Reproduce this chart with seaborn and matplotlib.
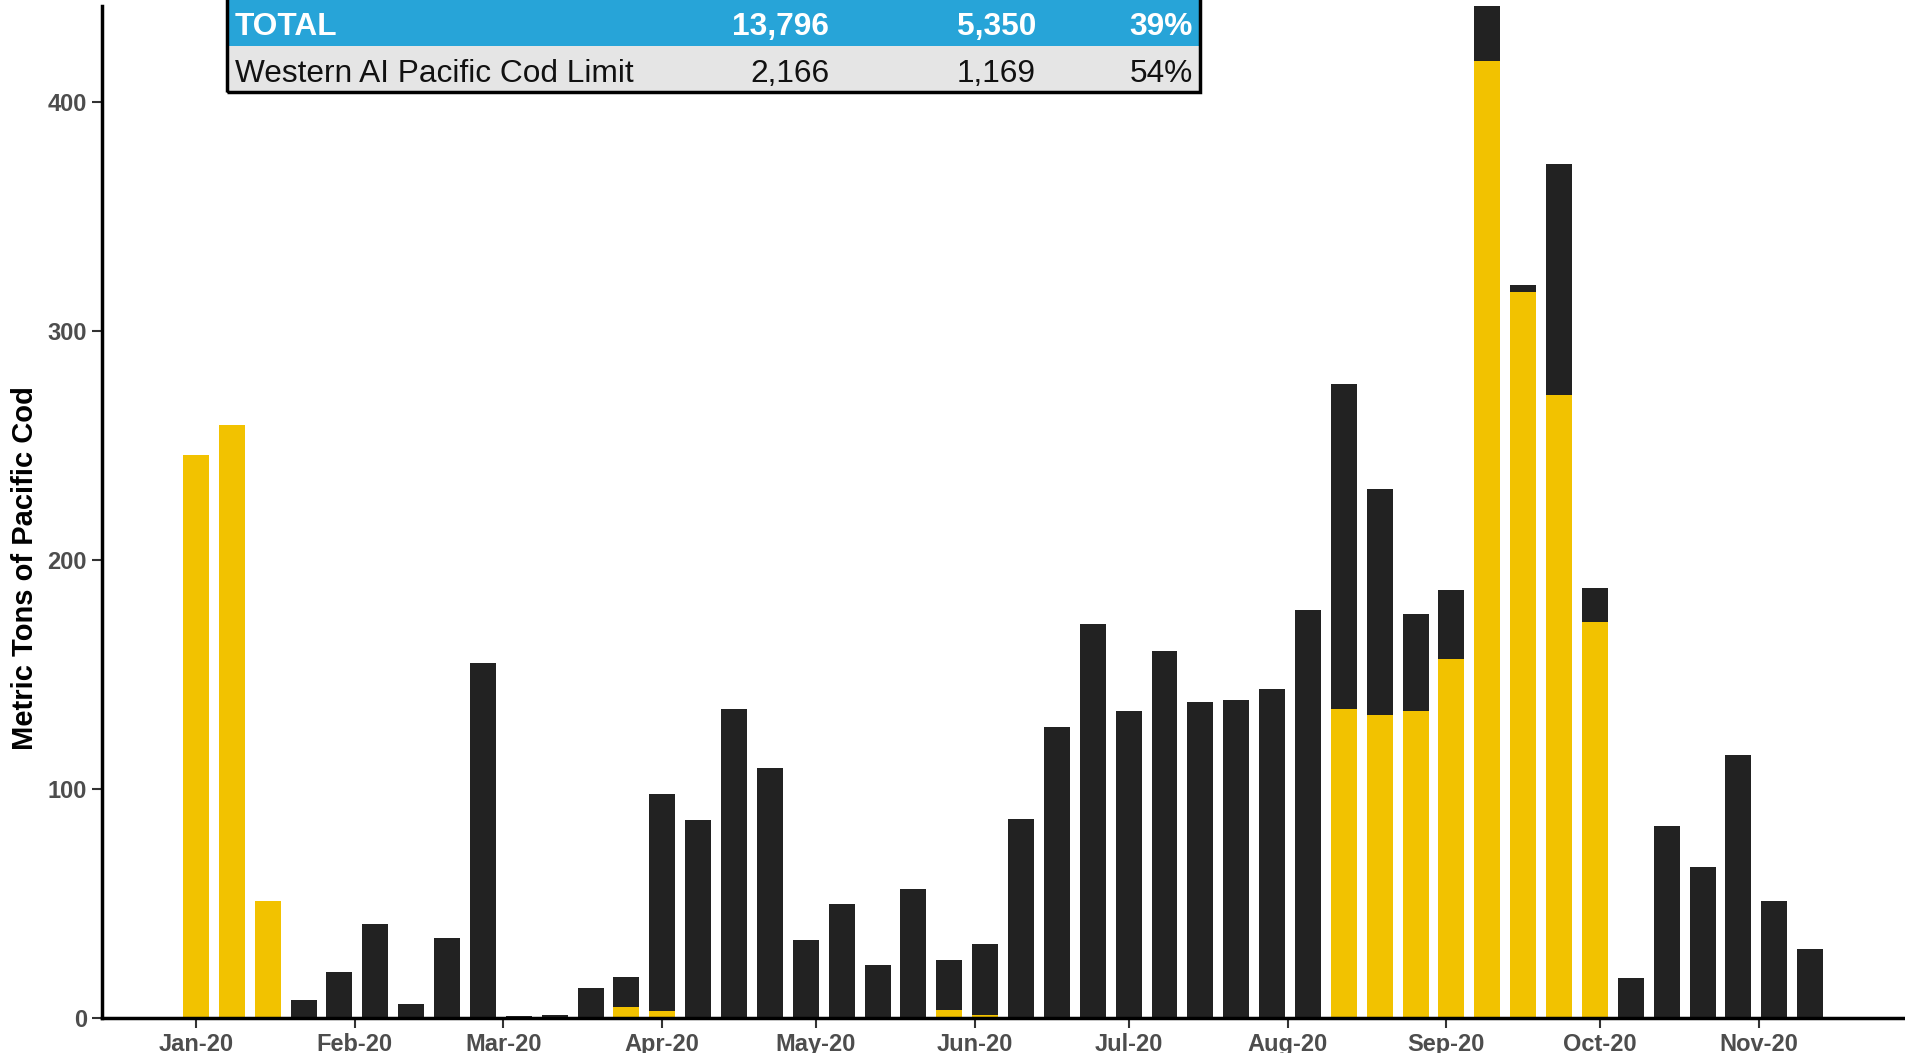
import pandas as pd
import seaborn as sns
import matplotlib.pyplot as plt
import matplotlib.dates as mdates
from matplotlib.patches import Rectangle

sns.set_style('ticks')
plt.rcParams['font.family'] = ['Liberation Sans', 'DejaVu Sans']
plt.rcParams['font.weight'] = 'bold'

# weekly catch (metric tons), weeks starting 2020-01-01
week_start = '2020-01-01'
n_weeks = 46
total_catch = [246, 259, 51, 8, 20, 41, 6, 35, 155, 1, 1.5, 13,
               18, 98, 86.5, 135, 109, 34, 50, 23, 56.5, 25.5, 32.3, 87,
               127, 172, 134, 160.5, 138, 139, 143.5, 178, 277, 231, 176.5, 187,
               453, 320, 373, 188, 17.5, 84, 66, 115, 51, 30]
yellow_catch = [246, 259, 51, 0, 0, 0, 0, 0, 0, 0, 0, 0,
                4.8, 3.1, 0, 0, 0, 0, 0, 0, 0, 3.5, 1.3, 0,
                0, 0, 0, 0, 0, 0, 0, 0, 135, 132.5, 134, 157,
                418, 317, 272, 173, 0, 0, 0, 0, 0, 0]

# summary table
table_rows = [['TOTAL', '13,796', '5,350', '39%'],
              ['Western AI Pacific Cod Limit', '2,166', '1,169', '54%']]

dates = pd.date_range(week_start, periods=n_weeks, freq='7D')
df = pd.DataFrame({'x': mdates.date2num(dates),
                   'total': total_catch,
                   'yellow': yellow_catch})

W, H = 1905, 1053
fig = plt.figure(figsize=(W / 100, H / 100), dpi=100)
ax = fig.add_axes([101.7 / W, 1 - 1018 / H, 1 - 101.7 / W, (1018 - 6) / H])

sns.barplot(data=df, x='x', y='total', native_scale=True, color='#222222',
            width=0.724, errorbar=None, saturation=1, linewidth=0, ax=ax)
sns.barplot(data=df, x='x', y='yellow', native_scale=True, color='#F2C200',
            width=0.724, errorbar=None, saturation=1, linewidth=0, ax=ax)

x0 = mdates.date2num(pd.Timestamp(week_start))
ax.set_xlim(x0 - 18.4, x0 + 333.5)
ax.set_ylim(0, 442)
ax.set_yticks([0, 100, 200, 300, 400])
ax.xaxis.set_major_locator(mdates.MonthLocator())
ax.xaxis.set_major_formatter(mdates.DateFormatter('%b-%y'))
ax.tick_params(axis='both', labelsize=17, labelcolor='#4D4D4D',
               color='#333333', length=7, width=1.5, direction='out')
ax.set_xlabel('')
ax.set_ylabel('Metric Tons of Pacific Cod', fontsize=21,
              fontweight='bold', color='black')
ax.yaxis.set_label_coords(-0.0348, 0.445)

sns.despine(ax=ax)
for side in ['left', 'bottom']:
    ax.spines[side].set_linewidth(2.5)
    ax.spines[side].set_color('black')


def fx(px):
    return px / W


def fy(py):
    return 1 - py / H


# table overlay
left, right = 227, 1200
fig.add_artist(Rectangle((fx(left), fy(46)), fx(right - left), 52 / H,
                         transform=fig.transFigure, facecolor='#27A4D8',
                         edgecolor='none'))
fig.add_artist(Rectangle((fx(left), fy(92)), fx(right - left), 46 / H,
                         transform=fig.transFigure, facecolor='#E5E5E5',
                         edgecolor='none'))
fig.add_artist(Rectangle((fx(left), fy(92)), fx(right - left), 100 / H,
                         transform=fig.transFigure, facecolor='none',
                         edgecolor='black', linewidth=2.5))

col_right = [829, 1036, 1193]
baselines = [35, 81.7]
for i, row in enumerate(table_rows):
    if i == 0:
        color, weight = 'white', 'bold'
    else:
        color, weight = '#111111', 'normal'
    fig.text(fx(235), fy(baselines[i]), row[0], color=color,
             fontweight=weight, fontsize=22.8, va='baseline', ha='left')
    for j, val in enumerate(row[1:]):
        fig.text(fx(col_right[j]), fy(baselines[i]), val, color=color,
                 fontweight=weight, fontsize=22.8, va='baseline', ha='right')

fig.savefig('out.png', dpi=100)
